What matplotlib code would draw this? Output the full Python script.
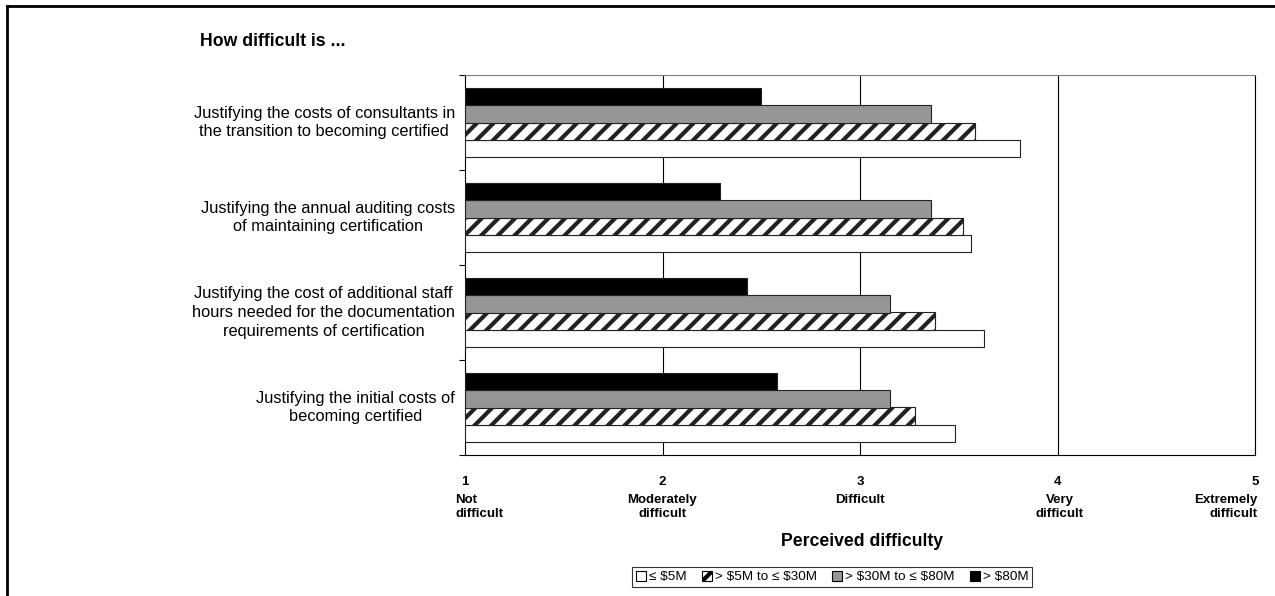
import matplotlib.pyplot as plt
import matplotlib.transforms as mtransforms
from matplotlib.lines import Line2D
from matplotlib.patches import Patch
import numpy as np

plt.rcParams['font.family'] = ['Liberation Sans', 'DejaVu Sans']
plt.rcParams['hatch.linewidth'] = 3.0

# categories, top to bottom
categories = [
    "Justifying the costs of consultants in\nthe transition to becoming certified",
    "Justifying the annual auditing costs\nof maintaining certification",
    "Justifying the cost of additional staff\nhours needed for the documentation\nrequirements of certification",
    "Justifying the initial costs of\nbecoming certified",
]

series_names = ["≤ \\$5M", "> \\$5M to ≤ \\$30M", "> \\$30M to ≤ \\$80M", "> \\$80M"]

# mean perceived difficulty per revenue group (same order as categories)
upto_5m = [3.81, 3.56, 3.63, 3.48]
from_5m_to_30m = [3.58, 3.52, 3.38, 3.28]
from_30m_to_80m = [3.36, 3.36, 3.15, 3.15]
over_80m = [2.50, 2.29, 2.43, 2.58]

tick_values = [1, 2, 3, 4, 5]
tick_words = ["Not\ndifficult", "Moderately\ndifficult", "Difficult",
              "Very\ndifficult", "Extremely\ndifficult"]

fig = plt.figure(figsize=(12.75, 5.96), dpi=100)
ax = fig.add_axes([465 / 1275, 1 - 455 / 596, 790 / 1275, 380 / 596])

n = len(categories)
centers = np.arange(n)[::-1] + 0.5
h = 0.182

styles = [
    dict(color="white", hatch=None),
    dict(color="white", hatch="//"),
    dict(color="#969696", hatch=None),
    dict(color="black", hatch=None),
]
all_series = [upto_5m, from_5m_to_30m, from_30m_to_80m, over_80m]

for k, (vals, st) in enumerate(zip(all_series, styles)):
    offs = (k - 1.5) * h
    ax.barh(centers + offs, np.array(vals) - 1, left=1, height=h,
            color=st["color"], hatch=st["hatch"], edgecolor="#222222",
            linewidth=0.8, zorder=3)

ax.set_xlim(1, 5)
ax.set_ylim(0, n)

# gridlines
for xv in [2, 3, 4, 5]:
    ax.axvline(xv, color="black", linewidth=0.8, zorder=1)

ax.spines["left"].set_color("black")
ax.spines["bottom"].set_color("black")
ax.spines["top"].set_color("#808080")
ax.spines["right"].set_color("black")
for s in ax.spines.values():
    s.set_linewidth(0.8)

# y axis: ticks at category boundaries, labels at centres
ax.set_yticks(np.arange(n + 1))
ax.set_yticklabels([])
ax.tick_params(axis="y", which="major", direction="out", length=4, width=0.8)
ytrans = mtransforms.blended_transform_factory(ax.transAxes, ax.transData)
for c, lab in zip(centers, categories):
    ax.text(-0.0128, c, lab, transform=ytrans,
            ha="right", va="center", multialignment="center", fontsize=11.75,
            linespacing=1.3)

# x axis: numbers as tick labels, words below
ax.set_xticks(tick_values)
ax.set_xticklabels([str(v) for v in tick_values], fontsize=9.5, fontweight="bold")
ax.tick_params(axis="x", length=0, pad=15)

trans = mtransforms.blended_transform_factory(ax.transData, ax.transAxes)
word_pos = [(0.95, "left"), (2.0, "center"), (3.0, "center"), (4.01, "center"), (5.015, "right")]
for (xv, ha), w in zip(word_pos, tick_words):
    ax.text(xv, -0.102, w, transform=trans, ha=ha, va="top", multialignment=ha,
            fontsize=9.5, fontweight="bold", linespacing=1.25)

fig.text(862 / 1275, 1 - 542 / 596, "Perceived difficulty", ha="center", va="center",
         fontsize=12.7, fontweight="bold")
fig.text(200 / 1275, 1 - 41 / 596, "How difficult is ...", ha="left", va="center",
         fontsize=12.7, fontweight="bold")

handles = [Patch(facecolor=st["color"], hatch=st["hatch"], edgecolor="black", linewidth=0.8)
           for st in styles]
leg = fig.legend(handles, series_names, loc="center", bbox_to_anchor=(832 / 1275, 1 - 577 / 596),
                 ncol=4, fontsize=9.7, frameon=True, fancybox=False, edgecolor="black",
                 handlelength=0.75, handleheight=0.75, handletextpad=0.2, columnspacing=1.15,
                 borderpad=0.25, borderaxespad=0)
leg.get_frame().set_linewidth(0.8)

# outer frame (left and top only)
fig.add_artist(Line2D([7 / 1275, 7 / 1275], [0, 1 - 6 / 596], color="black", linewidth=2, transform=fig.transFigure))
fig.add_artist(Line2D([7 / 1275, 1], [1 - 6 / 596, 1 - 6 / 596], color="black", linewidth=2, transform=fig.transFigure))

fig.savefig("out.png", dpi=100)
